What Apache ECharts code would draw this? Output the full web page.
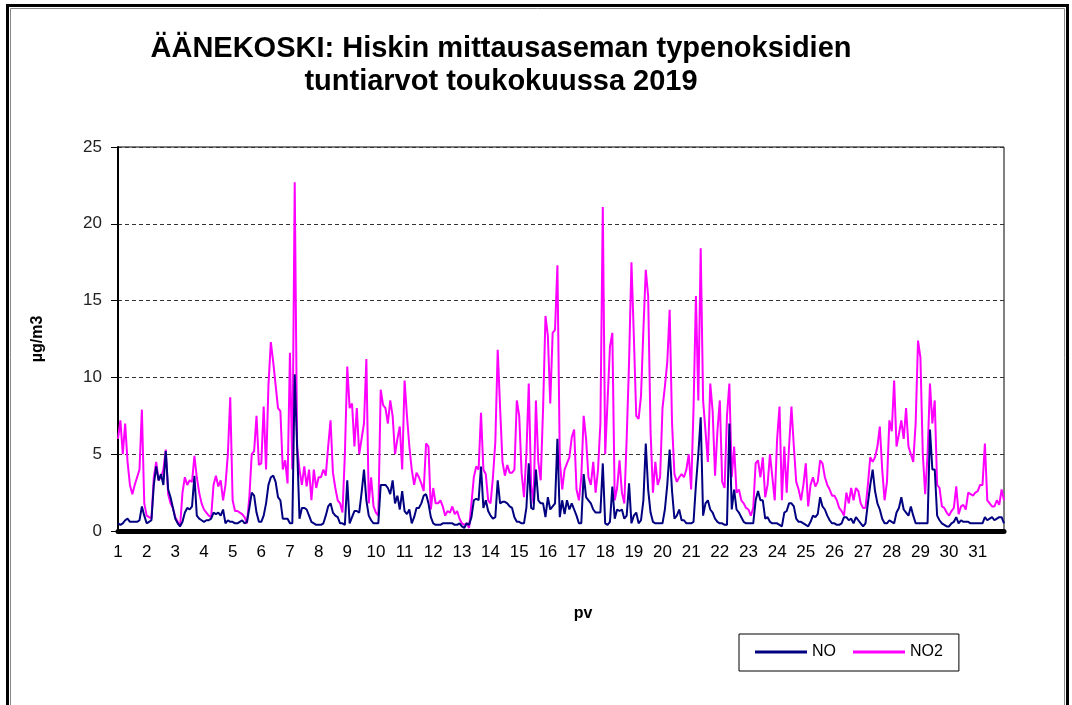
<!DOCTYPE html>
<html>
<head>
<meta charset="utf-8">
<script src="https://cdn.jsdelivr.net/npm/echarts@6/dist/echarts.min.js"></script>
<style>
html,body{margin:0;padding:0;background:#fff;}
#chart{width:1072px;height:705px;}
</style>
</head>
<body>
<div id="chart"></div>
<script>
// Day labels (tick labels of the x axis)
const dayLabels = [1,2,3,4,5,6,7,8,9,10,11,12,13,14,15,16,17,18,19,20,21,22,23,24,25,26,27,28,29,30,31];
// Sample hours within each day (2-hour readings)
const sampleHours = [0,2,4,6,8,10,12,14,16,18,20,22];
// Legend / series names
const seriesNames = ['NO', 'NO2'];

// NO2 values (µg/m3), 12 readings per day
const no2Values = [
  6.0, 7.2, 5.0, 7.0, 4.5, 3.0, 2.4, 3.0, 3.5, 4.0, 7.9, 1.8,
  1.0, 0.9, 0.8, 3.5, 4.5, 3.3, 3.5, 4.0, 5.3, 2.4, 1.8, 1.5,
  0.9, 0.6, 0.3, 2.5, 3.5, 3.0, 3.3, 3.2, 4.9, 3.5, 2.5, 1.8,
  1.4, 1.2, 1.0, 0.9, 3.0, 3.6, 2.9, 3.3, 2.0, 3.0, 5.0, 8.7,
  2.0, 1.3, 1.3, 1.2, 1.1, 0.9, 0.5, 2.2, 5.0, 5.2, 7.5, 4.3,
  4.4, 8.1, 4.0, 9.5, 12.3, 11.0, 9.5, 8.0, 7.8, 4.0, 4.6, 3.1,
  11.6, 4.0, 22.7, 5.5, 4.0, 3.0, 4.2, 2.9, 4.0, 2.0, 4.0, 2.8,
  3.5, 3.5, 4.0, 3.6, 5.5, 7.2, 3.8, 2.8, 2.0, 1.8, 1.2, 5.0,
  10.7, 8.0, 8.3, 5.5, 8.0, 5.0, 6.0, 7.0, 11.2, 1.8, 3.5, 1.6,
  1.2, 1.0, 9.2, 8.2, 8.0, 7.0, 8.5, 7.5, 5.0, 6.0, 6.8, 4.0,
  9.8, 7.5, 5.5, 4.0, 3.0, 3.8, 3.5, 3.1, 2.6, 5.7, 5.5, 1.4,
  2.8, 1.8, 1.8, 2.0, 1.6, 1.0, 1.3, 1.2, 1.6, 1.1, 1.3, 0.8,
  0.5, 0.4, 0.5, 0.2, 1.8, 3.5, 4.2, 4.0, 7.7, 4.0, 3.7, 2.0,
  1.8, 3.5, 5.8, 11.8, 8.0, 4.5, 3.6, 4.3, 3.8, 3.8, 4.0, 8.5,
  7.5, 3.8, 2.2, 5.0, 9.6, 3.0, 1.8, 8.5, 4.5, 3.3, 8.0, 14.0,
  12.7, 8.3, 12.9, 13.1, 17.3, 4.6, 2.7, 4.0, 4.4, 4.8, 6.1, 6.6,
  2.7, 2.0, 3.5, 7.5, 6.0, 3.5, 3.0, 4.5, 2.5, 4.0, 7.0, 21.1,
  5.0, 8.5, 12.0, 12.9, 2.0, 2.8, 4.6, 2.5, 1.8, 6.0, 11.0, 17.5,
  12.7, 7.5, 7.3, 8.8, 13.1, 17.0, 15.3, 6.5, 2.5, 4.5, 3.0, 3.5,
  8.0, 9.4, 11.0, 14.4, 7.0, 3.7, 3.2, 3.5, 3.7, 3.5, 4.0, 5.0,
  2.7, 8.0, 15.3, 8.5, 18.4, 8.5, 6.5, 4.5, 9.6, 7.8, 3.6, 6.5,
  8.5, 3.2, 2.8, 7.5, 9.6, 3.5, 5.5, 2.5, 2.7, 2.0, 1.8, 1.5,
  1.4, 1.0, 1.5, 4.4, 4.6, 3.5, 4.8, 2.2, 3.0, 5.0, 3.5, 2.0,
  6.0, 8.1, 2.0, 5.5, 2.5, 5.5, 8.1, 5.5, 3.2, 2.7, 2.0, 3.0,
  4.4, 1.6, 3.0, 3.5, 2.9, 3.2, 4.6, 4.4, 3.5, 3.0, 2.7, 2.3,
  2.3, 2.0, 1.5, 1.3, 1.0, 2.5, 1.8, 2.8, 2.0, 2.8, 2.6, 1.8,
  1.5, 1.5, 3.0, 4.8, 4.5, 4.8, 5.5, 6.8, 4.0, 2.0, 3.2, 7.2,
  6.5, 9.8, 5.5, 6.3, 7.2, 6.0, 8.0, 5.5, 5.0, 4.5, 7.0, 12.4,
  11.3, 5.0, 2.4, 5.0, 9.6, 7.0, 8.5, 3.0, 2.8, 1.6, 1.5, 1.2,
  1.0, 1.3, 1.5, 2.9, 1.1, 1.6, 1.7, 1.4, 2.5, 2.4, 2.3, 2.5,
  2.6, 3.0, 3.0, 5.7, 2.0, 1.8, 1.6, 1.6, 2.0, 1.7, 2.7, 2.0
];

// NO values (µg/m3), 12 readings per day
const noValues = [
  0.5, 0.4, 0.5, 0.7, 0.8, 0.6, 0.6, 0.6, 0.6, 0.7, 1.6, 1.0,
  0.5, 0.6, 0.7, 3.0, 4.2, 3.3, 3.7, 3.0, 5.2, 2.7, 2.2, 1.5,
  0.8, 0.5, 0.3, 0.6, 1.2, 1.5, 1.4, 1.6, 3.6, 1.0, 0.8, 0.7,
  0.6, 0.7, 0.7, 0.8, 1.2, 1.1, 1.2, 1.0, 1.4, 0.5, 0.7, 0.6,
  0.6, 0.5, 0.5, 0.6, 0.7, 0.5, 0.6, 1.5, 2.5, 2.3, 1.2, 0.6,
  0.6, 1.0, 1.8, 3.0, 3.5, 3.6, 3.2, 2.2, 2.0, 0.8, 0.8, 0.8,
  0.5, 0.5, 10.2, 5.5, 0.8, 1.5, 1.5, 1.4, 1.0, 0.6, 0.5, 0.4,
  0.4, 0.4, 0.5, 1.0, 1.6, 1.8, 1.2, 1.0, 0.9, 0.5, 0.5, 0.4,
  3.3, 0.5, 0.9, 1.3, 1.3, 1.2, 2.5, 4.0, 2.0, 1.0, 0.7, 0.5,
  0.5, 0.5, 3.0, 3.0, 3.0, 2.8, 2.4, 3.3, 1.8, 2.3, 1.4, 2.6,
  1.3, 1.1, 1.4, 0.5, 0.9, 1.5, 1.5, 1.8, 2.3, 2.4, 1.8, 0.9,
  0.5, 0.4, 0.4, 0.4, 0.5, 0.5, 0.5, 0.5, 0.5, 0.4, 0.4, 0.5,
  0.3, 0.2, 0.5, 0.4, 0.9, 2.0, 2.1, 2.0, 4.2, 1.5, 2.0, 1.3,
  1.0, 0.8, 0.9, 3.3, 1.8, 1.9, 1.9, 1.8, 1.6, 1.5, 0.9, 0.6,
  0.6, 0.5, 0.5, 1.5, 4.4, 1.5, 1.4, 4.0, 2.0, 1.8, 1.8, 0.9,
  2.2, 1.4, 1.6, 1.8, 6.0, 0.9, 2.0, 1.1, 2.0, 1.4, 1.8, 1.4,
  1.0, 0.5, 0.5, 3.7, 2.2, 2.0, 1.8, 1.4, 1.2, 1.2, 1.2, 4.4,
  0.5, 0.4, 0.6, 2.9, 0.8, 1.4, 1.3, 1.4, 0.8, 1.0, 3.1, 0.5,
  1.0, 1.2, 0.5, 0.7, 2.0, 5.7, 2.7, 1.2, 0.6, 0.5, 0.5, 0.5,
  0.5, 1.4, 3.0, 5.3, 2.6, 0.8, 1.0, 1.4, 0.7, 0.7, 0.5, 0.5,
  0.5, 0.6, 3.0, 5.0, 7.4, 1.0, 1.8, 2.0, 1.4, 1.2, 0.8, 0.6,
  0.5, 0.5, 0.4, 0.4, 7.0, 1.4, 2.7, 1.4, 1.2, 0.9, 0.6, 0.5,
  0.5, 0.5, 0.5, 2.0, 2.6, 2.0, 2.0, 0.8, 0.9, 0.6, 0.5, 0.5,
  0.5, 0.4, 0.3, 1.2, 1.3, 1.8, 1.8, 1.6, 0.8, 0.6, 0.6, 0.5,
  0.4, 0.3, 0.6, 1.0, 0.9, 1.1, 2.2, 1.6, 1.4, 1.0, 0.7, 0.5,
  0.5, 0.4, 0.4, 0.5, 0.9, 0.9, 0.7, 0.8, 0.5, 0.9, 0.7, 0.5,
  0.3, 0.5, 1.8, 3.0, 4.0, 2.6, 1.8, 1.4, 0.8, 0.5, 0.5, 0.7,
  0.6, 0.5, 1.2, 1.5, 2.2, 1.4, 1.2, 1.0, 1.6, 1.0, 0.5, 0.5,
  0.5, 0.5, 0.5, 0.5, 6.6, 4.0, 4.0, 1.0, 0.7, 0.5, 0.4, 0.3,
  0.3, 0.5, 0.6, 0.9, 0.5, 0.7, 0.6, 0.6, 0.6, 0.5, 0.5, 0.5,
  0.5, 0.5, 0.5, 0.9, 0.7, 0.8, 0.9, 0.7, 0.8, 0.9, 0.9, 0.5
];

// Category axis: one category per reading, "day:hour"
const categories = [];
dayLabels.forEach(d => sampleHours.forEach(h => categories.push(d + ':' + h)));

const FONT = '"Liberation Sans", Arial, sans-serif';
const chart = echarts.init(document.getElementById('chart'), null, {renderer: 'canvas'});

chart.setOption({
  backgroundColor: '#ffffff',
  animation: false,
  title: {
    text: 'ÄÄNEKOSKI: Hiskin mittausaseman typenoksidien\ntuntiarvot toukokuussa 2019',
    left: 501,
    top: 32,
    textAlign: 'center',
    padding: 0,
    textStyle: {
      fontFamily: FONT,
      fontSize: 29,
      fontWeight: 'bold',
      color: '#000',
      lineHeight: 33
    }
  },
  legend: {
    data: seriesNames,
    left: 739,
    top: 634,
    orient: 'horizontal',
    padding: [10, 16, 11, 16],
    itemGap: 17,
    itemWidth: 52,
    itemHeight: 3,
    icon: 'rect',
    borderColor: '#000',
    borderWidth: 1,
    textStyle: { fontFamily: FONT, fontSize: 16, color: '#000' }
  },
  grid: {
    left: 118,
    right: 68,
    top: 147,
    bottom: 174,
    show: true,
    borderColor: '#000',
    borderWidth: 1,
    backgroundColor: '#fff',
    containLabel: false
  },
  xAxis: {
    type: 'category',
    data: categories,
    boundaryGap: false,
    name: 'pv',
    nameLocation: 'middle',
    nameGap: 75,
    nameTextStyle: {
      fontFamily: FONT, fontSize: 16, fontWeight: 'bold', color: '#000',
      padding: [0, 0, 0, 44]
    },
    axisLine: { show: true, lineStyle: { color: '#000', width: 5 } },
    axisTick: { show: false },
    axisLabel: {
      interval: sampleHours.length - 1,
      margin: 13,
      fontFamily: FONT,
      fontSize: 17,
      color: '#000',
      formatter: v => v.split(':')[0]
    },
    splitLine: { show: false }
  },
  yAxis: {
    type: 'value',
    min: 0,
    max: 25,
    interval: 5,
    name: 'µg/m3',
    nameLocation: 'middle',
    nameGap: 72,
    nameRotate: 90,
    nameTextStyle: { fontFamily: FONT, fontSize: 16, fontWeight: 'bold', color: '#000' },
    axisLine: { show: true, lineStyle: { color: '#000', width: 2 } },
    axisTick: { show: true, inside: false, length: 7, lineStyle: { color: '#000', width: 1 } },
    axisLabel: { margin: 16, fontFamily: FONT, fontSize: 17, color: '#222' },
    splitLine: { show: true, lineStyle: { color: '#333', type: [4, 3], width: 1 } }
  },
  series: [
    {
      name: 'NO2',
      type: 'line',
      data: no2Values,
      symbol: 'none',
      lineStyle: { color: '#FF00FF', width: 2 },
      itemStyle: { color: '#FF00FF' },
      z: 2
    },
    {
      name: 'NO',
      type: 'line',
      data: noValues,
      symbol: 'none',
      lineStyle: { color: '#000080', width: 2 },
      itemStyle: { color: '#000080' },
      z: 3
    }
  ],
  graphic: [
    { type: 'rect', silent: true, z: 100,
      shape: { x: 7.5, y: 5.5, width: 1060, height: 740 },
      style: { fill: 'none', stroke: '#000', lineWidth: 3 } },
    { type: 'rect', silent: true, z: 100,
      shape: { x: 10.5, y: 8.5, width: 1054, height: 740 },
      style: { fill: 'none', stroke: '#888', lineWidth: 1 } }
  ]
});
</script>
</body>
</html>
